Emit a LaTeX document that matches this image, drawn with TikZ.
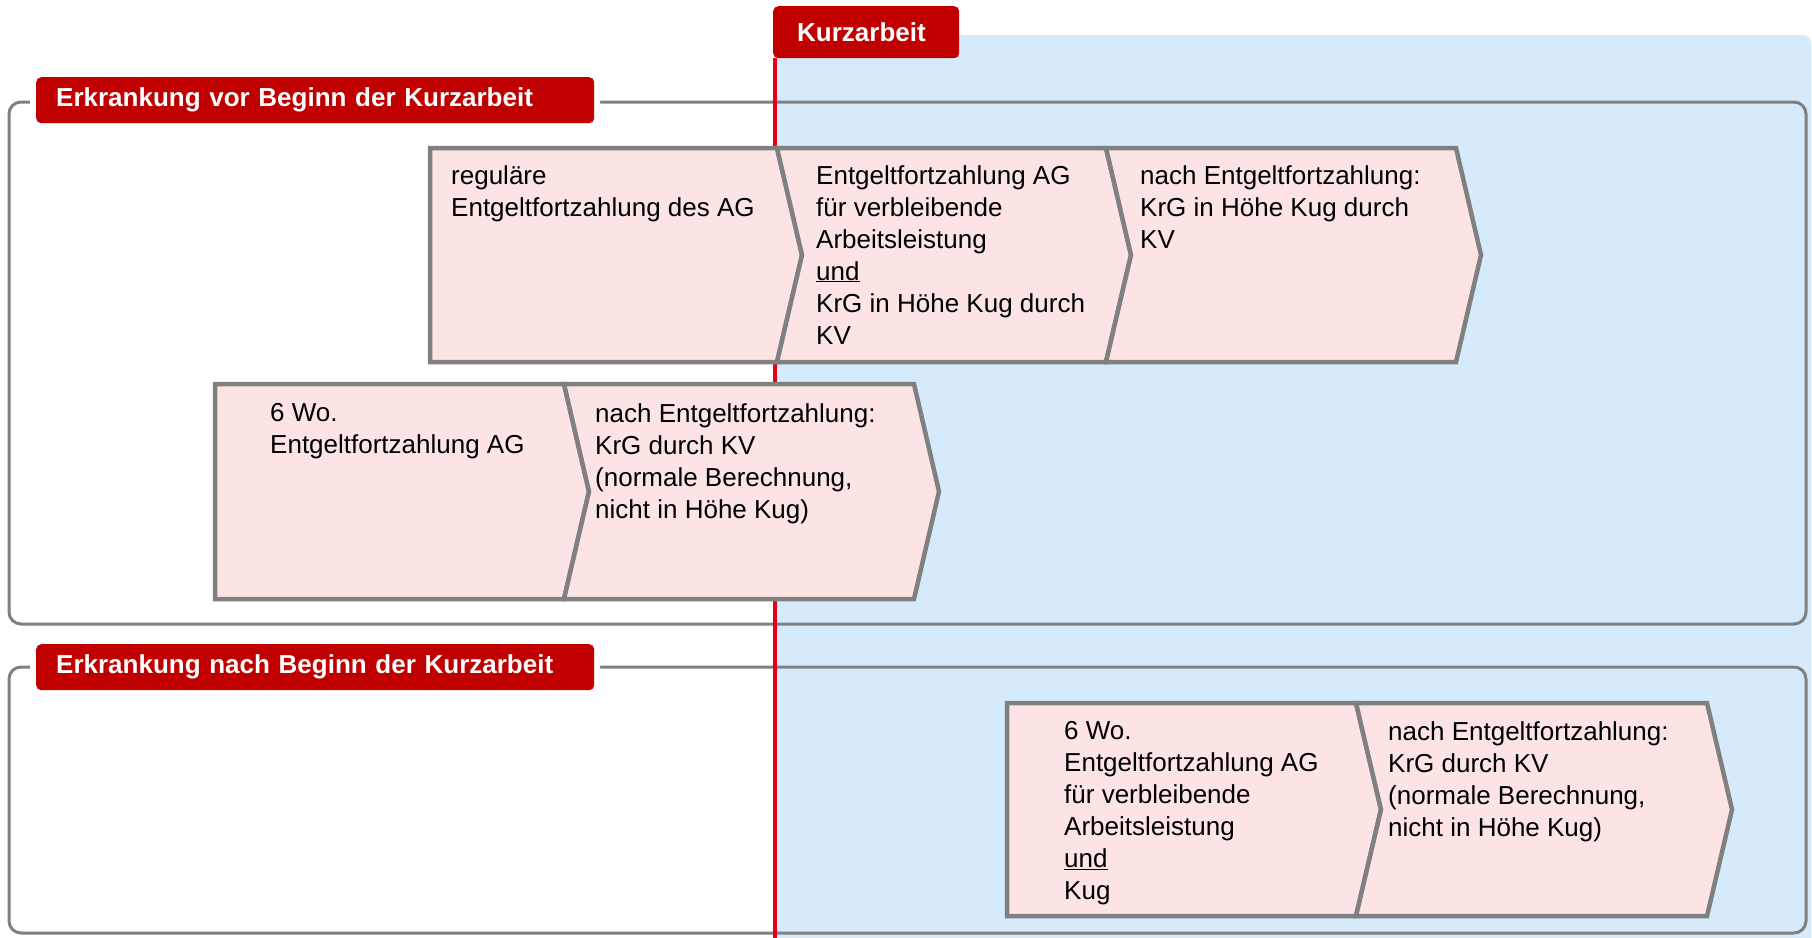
\documentclass[tikz,border=0pt]{standalone}
\usepackage{fontspec}
\setmainfont{Liberation Sans}
\usepackage{tikz}
\definecolor{tabred}{HTML}{C00000}
\definecolor{linered}{HTML}{E2001A}
\definecolor{kablue}{HTML}{D5EAFB}
\definecolor{boxpink}{HTML}{FDE4E4}
\definecolor{framegray}{HTML}{808080}
\newcommand{\pfeil}[5]{\filldraw[pfeil] (#1,#3) -- (#2,#3) -- ({#2+25},{(#3+#4)/2}) -- (#2,#4) -- (#1,#4) -- ({#1+#5},{(#3+#4)/2}) -- cycle;}
\tikzset{
  pfeil/.style={fill=boxpink, draw=framegray, line width=4.5pt},
  frame/.style={draw=framegray, line width=3pt, rounded corners=12pt},
  hdtab/.style={anchor=north west, rounded corners=5pt, fill=tabred, text=white,
    font=\fontsize{26}{32}\selectfont\bfseries, preaction={draw=white, line width=12pt},
    inner xsep=20pt, inner ysep=0pt, align=left, text width=518pt, minimum height=46pt},
  txt/.style={anchor=north west, align=left, inner sep=0pt, font=\fontsize{26}{32}\selectfont}
}
\begin{document}
\begin{tikzpicture}[x=1pt,y=-1pt]
\useasboundingbox (0,0) rectangle (1812,937);
\fill[kablue, rounded corners=8pt] (775,35) rectangle (1811,960);
\draw[frame] (9,102) rectangle (1806,624);
\draw[frame] (9,667) rectangle (1806,933);
\node[anchor=north west, rounded corners=5pt, fill=tabred, text=white, font=\fontsize{26}{32}\selectfont\bfseries,
  inner xsep=24pt, inner ysep=0pt, align=left, text width=138pt, minimum height=52pt] (kaTab) at (773,6) {Kurzarbeit};
\draw[linered, line width=4pt] ([xshift=2pt]kaTab.south west) -- ++(0,890);
\node[hdtab] (vorTab) at (36,77) {Erkrankung vor Beginn der Kurzarbeit};
\node[hdtab] (nachTab) at (36,644) {Erkrankung nach Beginn der Kurzarbeit};
% vor Beginn
\pfeil{430}{777}{148}{362}{0}
\pfeil{777}{1106}{148}{362}{25}
\pfeil{1106}{1456}{148}{362}{25}
\pfeil{215}{564}{384}{599}{0}
\pfeil{564}{914}{384}{599}{25}
% nach Beginn
\pfeil{1007}{1356}{703}{916}{0}
\pfeil{1356}{1707}{703}{916}{25}
\node[txt] (regulaer) at (451,165) {reguläre\\Entgeltfortzahlung des AG};
\node[txt] (efzKrg) at (816,165) {Entgeltfortzahlung AG\\für verbleibende\\Arbeitsleistung\\\underline{und}\\KrG in Höhe Kug durch\\KV};
\node[txt] (krgKug) at (1140,165) {nach Entgeltfortzahlung:\\KrG in Höhe Kug durch\\KV};
\node[txt] (sechsWo) at (270,403) {6 Wo.\\Entgeltfortzahlung AG};
\node[txt] (krgNormal) at (595,403) {nach Entgeltfortzahlung:\\KrG durch KV\\(normale Berechnung,\\nicht in Höhe Kug)};
\node[txt] (sechsWoKug) at (1064,721) {6 Wo.\\Entgeltfortzahlung AG\\für verbleibende\\Arbeitsleistung\\\underline{und}\\Kug};
\node[txt] (krgNormalB) at (1388,721) {nach Entgeltfortzahlung:\\KrG durch KV\\(normale Berechnung,\\nicht in Höhe Kug)};
\end{tikzpicture}
\end{document}
